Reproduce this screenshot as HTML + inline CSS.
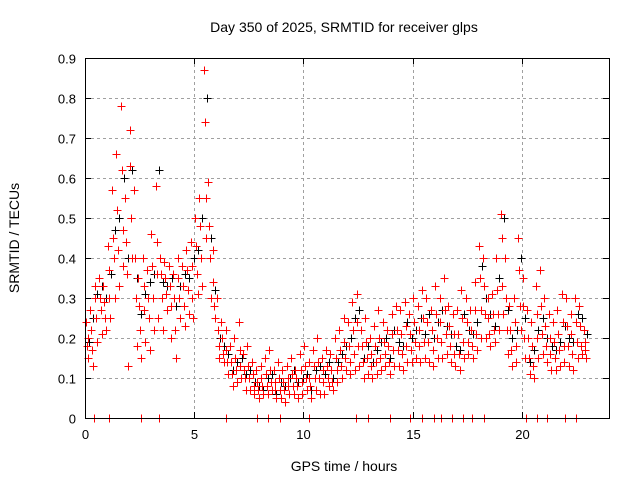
<!DOCTYPE html>
<html><head><meta charset="utf-8"><style>
body{margin:0;background:#fff}
svg{display:block;font-family:"Liberation Sans",sans-serif}
</style></head><body>
<svg id="chart" width="640" height="480" viewBox="0 0 640 480" xmlns="http://www.w3.org/2000/svg">
<rect width="640" height="480" fill="#fff"/>
<text x="344" y="32" font-size="14" text-anchor="middle">Day 350 of 2025, SRMTID for receiver glps</text>
<text x="344" y="471" font-size="14" text-anchor="middle">GPS time / hours</text>
<text transform="translate(19,238) rotate(-90)" font-size="14" text-anchor="middle">SRMTID / TECUs</text>
<g id="grid" shape-rendering="crispEdges"></g>
<g id="ticks"></g>
<g id="blk" shape-rendering="crispEdges"></g>
<g id="red" shape-rendering="crispEdges"></g>
<rect x="85.5" y="58.5" width="524" height="360" fill="none" stroke="#000" stroke-width="1" shape-rendering="crispEdges"/>
</svg>
<script>
const xTicks=[0,5,10,15,20];
const yTicks=[0,0.1,0.2,0.3,0.4,0.5,0.6,0.7,0.8,0.9];
const yTickLabels=["0","0.1","0.2","0.3","0.4","0.5","0.6","0.7","0.8","0.9"];
const tStart=0.1, tStep=0.2;
const redA=[.24,.27,.33,.35,.33,.43,.57,.66,.78,.55,.72,.57,.35,.40,.37,.46,.58,.40,.39,.38,.36,.40,.38,.42,.44,.50,.55,.87,.59,.42,.30,.24,.22,.18,.20,.24,.16,.18,.14,.12,.13,.15,.17,.12,.14,.12,.13,.15,.12,.16,.18,.14,.17,.20,.15,.17,.16,.20,.22,.25,.24,.29,.31,.22,.25,.20,.23,.27,.24,.22,.26,.28,.27,.29,.26,.30,.28,.32,.30,.27,.33,.30,.35,.28,.26,.27,.32,.30,.27,.34,.43,.40,.30,.31,.40,.51,.40,.28,.30,.45,.35,.27,.24,.33,.37,.30,.26,.24,.27,.31,.30,.26,.30,.28,.22];
const redB=[.18,.22,.30,.30,.29,.37,.45,.52,.62,.44,.63,.40,.28,.33,.30,.38,.44,.36,.35,.33,.30,.35,.33,.37,.38,.43,.48,.74,.48,.34,.22,.20,.17,.14,.15,.17,.12,.13,.11,.09,.10,.11,.12,.09,.10,.09,.10,.11,.10,.12,.13,.10,.13,.14,.12,.13,.12,.15,.17,.19,.18,.22,.24,.18,.19,.16,.18,.20,.19,.18,.21,.22,.21,.23,.21,.24,.22,.25,.24,.22,.26,.24,.27,.23,.21,.21,.25,.24,.22,.27,.35,.33,.25,.26,.32,.45,.30,.22,.24,.37,.28,.20,.18,.26,.28,.23,.20,.19,.21,.24,.23,.21,.24,.23,.19];
const redC=[.20,.17,.25,.27,.25,.30,.40,.42,.47,.36,.50,.30,.22,.27,.25,.30,.36,.30,.31,.28,.22,.30,.28,.32,.30,.36,.40,.55,.40,.28,.18,.16,.14,.11,.12,.13,.10,.10,.08,.07,.08,.08,.09,.07,.07,.07,.08,.08,.08,.09,.10,.08,.10,.10,.09,.10,.09,.12,.13,.15,.14,.16,.18,.14,.15,.13,.14,.15,.16,.14,.17,.17,.16,.18,.17,.19,.18,.19,.19,.17,.20,.19,.21,.18,.16,.16,.19,.19,.18,.21,.27,.26,.21,.22,.26,.33,.22,.17,.18,.28,.20,.15,.13,.20,.21,.18,.16,.15,.17,.18,.18,.16,.19,.18,.17];
const redD=[.15,.13,.19,.21,.22,.25,.30,.33,.38,.13,.40,.18,.15,.19,.17,.22,.25,.22,.27,.20,.15,.25,.23,.26,.25,.31,.33,.45,.30,.25,.15,.14,.11,.08,.09,.10,.07,.07,.06,.05,.06,.06,.07,.05,.05,.04,.06,.06,.05,.06,.07,.05,.07,.06,.06,.08,.07,.09,.10,.12,.11,.12,.13,.10,.11,.10,.11,.12,.13,.11,.13,.13,.12,.14,.14,.15,.14,.15,.14,.13,.15,.15,.16,.14,.13,.12,.15,.16,.15,.17,.20,.20,.18,.19,.22,.26,.16,.13,.14,.22,.15,.11,.10,.15,.16,.14,.12,.12,.13,.14,.13,.12,.15,.16,.15];
const blackK=[.19,.25,.31,.33,.30,.36,.47,.50,.60,.40,.62,.35,.26,.31,.34,.36,.62,.34,.33,.35,.28,.33,.36,.35,.40,.42,.50,.80,.45,.32,.20,.18,.16,.12,.14,.15,.11,.12,.09,.08,.07,.10,.11,.06,.09,.08,.10,.12,.09,.10,.11,.07,.12,.13,.11,.14,.10,.14,.16,.18,.20,.25,.27,.15,.18,.14,.17,.19,.20,.15,.22,.19,.18,.24,.20,.22,.25,.21,.26,.20,.24,.27,.23,.21,.18,.17,.26,.22,.21,.24,.38,.30,.26,.23,.35,.50,.27,.20,.22,.40,.25,.14,.17,.22,.25,.20,.18,.17,.19,.23,.20,.19,.26,.25,.21];
const zeroTimes=[0.41,1.10,2.57,3.39,6.46,7.88,8.38,8.93,10.26,12.41,12.96,13.97,14.89,15.44,15.99,16.31,16.81,17.32,17.73,18.28,20.2,20.7,21.16,21.99,22.49];

const L=85,R=609,T=58,B=418;
const xs=t=>L+t/24*(R-L);
const ys=v=>B-v/0.9*(B-T);
const NS="http://www.w3.org/2000/svg";
function mk(tag,attrs,parent){const e=document.createElementNS(NS,tag);for(const k in attrs)e.setAttribute(k,attrs[k]);parent.appendChild(e);return e;}
const grid=document.getElementById('grid'),ticks=document.getElementById('ticks');
xTicks.forEach(t=>{
  const x=Math.round(xs(t))+0.5;
  if(t>0){const g=mk('line',{x1:x,x2:x,y1:T,y2:B,stroke:'#a0a0a0','stroke-dasharray':'3,3'},grid);
  
  }
  mk('line',{x1:x,x2:x,y1:B,y2:B-6,stroke:'#000'},grid);
  mk('line',{x1:x,x2:x,y1:T,y2:T+6,stroke:'#000'},grid);
  const lb=mk('text',{x:x,y:B+21,'font-size':13,'text-anchor':'middle'},ticks);
  lb.textContent=t;
  
  
});
yTicks.forEach((v,i)=>{
  const y=Math.round(ys(v))+0.5;
  if(v>0&&v<0.9){const g=mk('line',{x1:L,x2:R,y1:y,y2:y,stroke:'#a0a0a0','stroke-dasharray':'3,3'},grid);
  
  }
  mk('line',{x1:L,x2:L+6,y1:y,y2:y,stroke:'#000'},grid);
  mk('line',{x1:R,x2:R-6,y1:y,y2:y,stroke:'#000'},grid);
  const lb=mk('text',{x:L-9,y:y+5,'font-size':13,'text-anchor':'end'},ticks);
  lb.textContent=yTickLabels[i];
  
  
});
function cross(t,v,color,g){
  const x=Math.round(xs(t))+0.5,y=Math.round(ys(v))+0.5,s=4;
  const p=mk('path',{d:`M${x-s},${y}H${x+s}M${x},${y-s}V${y+s}`,stroke:color,'stroke-width':1,fill:'none'},g);
  
  
}
const blk=document.getElementById('blk'),red=document.getElementById('red');
blackK.forEach((v,i)=>cross(tStart+i*tStep+0.07,v,'#000',blk));
[redA,redB,redC,redD].forEach((arr,j)=>arr.forEach((v,i)=>cross(tStart+i*tStep+(j-1.5)*0.04,v,'#f00',red)));
zeroTimes.forEach(t=>cross(t,0,'#f00',red));
</script>
</body></html>
